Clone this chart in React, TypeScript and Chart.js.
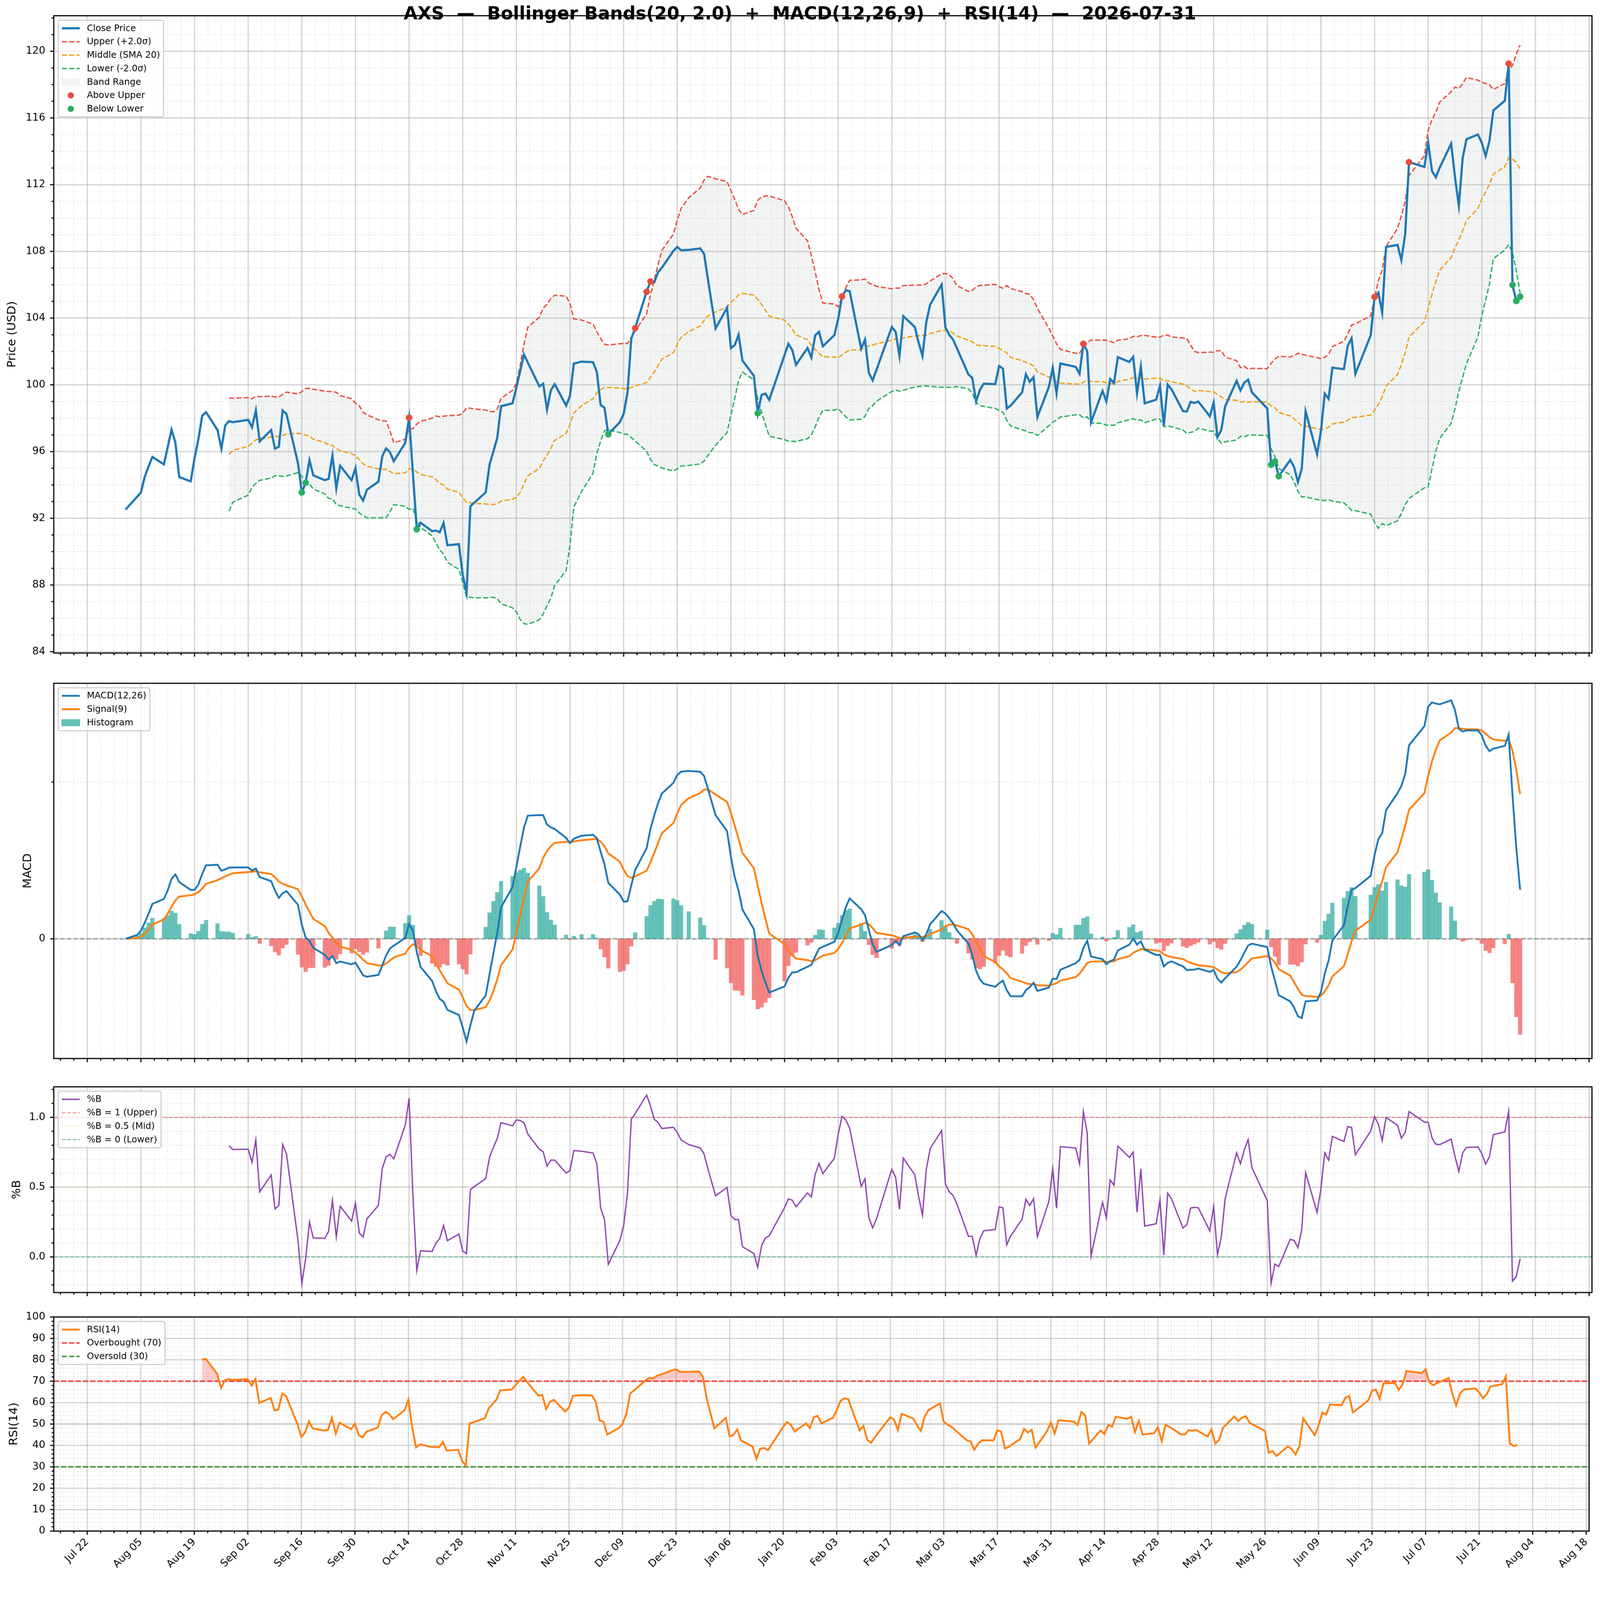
import React, { useEffect, useRef } from 'react';
import { Chart, registerables } from 'chart.js';

Chart.register(...registerables);

const FONT = "'DejaVu Sans', 'Liberation Sans', sans-serif";
Chart.defaults.font.family = FONT;

document.documentElement.style.overflow = 'hidden';
document.body.style.margin = '0';
document.body.style.overflow = 'hidden';

// ---- trading calendar (NYSE days, 1 Aug 2025 .. 31 Jul 2026) ----
const START = '2025-08-01';
const END = '2026-07-31';
const HOLIDAYS = [
  '2025-09-01', '2025-11-27', '2025-12-25', '2026-01-01', '2026-01-19',
  '2026-02-16', '2026-04-03', '2026-05-25', '2026-06-19', '2026-07-03',
];

// ---- close prices (USD), one block per month ----
const closeAug25 = [92.52, 93.29, 93.54, 94.49, 95.1, 95.68, 95.23, 96.27, 97.31, 96.54, 94.47, 94.21, 95.6, 96.74, 98.15, 98.36, 97.29, 96.17, 97.56, 97.83, 97.76];
const closeSep25 = [97.9, 97.45, 98.47, 96.61, 97.29, 96.17, 96.29, 98.47, 98.25, 95.3, 93.55, 94.13, 95.49, 94.57, 94.28, 94.37, 95.77, 93.79, 95.15, 94.28, 95.01];
const closeOct25 = [93.42, 93.06, 93.71, 94.2, 95.72, 96.19, 95.96, 95.42, 96.52, 98.03, 94.7, 91.34, 91.73, 91.23, 91.26, 91.16, 91.72, 90.38, 90.45, 88.6, 87.55, 92.72, 92.93];
const closeNov25 = [93.55, 95.22, 96.0, 96.81, 98.72, 98.89, 99.84, 100.83, 101.82, 101.33, 99.91, 100.07, 98.52, 99.67, 100.04, 98.75, 99.34, 101.27, 101.39];
const closeDec25 = [101.36, 100.77, 98.79, 98.63, 97.04, 97.76, 98.26, 99.51, 102.77, 103.4, 105.58, 106.2, 106.15, 106.76, 107.03, 108.03, 108.27, 108.07, 108.09, 108.18, 107.85, 106.33];
const closeJan26 = [103.38, 104.63, 102.2, 102.38, 103.01, 101.46, 100.54, 98.3, 99.39, 99.48, 99.1, 101.78, 102.46, 102.09, 101.2, 102.21, 101.63, 102.97, 103.18, 102.31];
const closeFeb26 = [102.98, 103.94, 105.3, 105.68, 105.61, 102.16, 102.71, 100.71, 100.27, 100.9, 103.47, 103.18, 101.73, 104.12, 103.47, 102.53, 101.73, 103.76, 104.81];
const closeMar26 = [106.01, 103.43, 103.0, 102.71, 102.19, 100.62, 100.42, 99.0, 99.7, 100.07, 100.04, 101.13, 100.97, 98.58, 98.75, 99.55, 100.64, 100.18, 100.46, 98.07, 99.88, 101.02];
const closeApr26 = [99.48, 101.28, 101.08, 100.66, 102.46, 102.02, 97.75, 99.64, 99.0, 100.35, 100.11, 101.66, 101.37, 101.68, 99.48, 101.09, 98.89, 99.11, 99.96, 97.56, 100.02];
const closeMay26 = [99.73, 98.43, 98.4, 98.98, 98.91, 99.0, 98.11, 98.93, 96.87, 97.29, 98.71, 100.24, 99.66, 100.13, 100.31, 99.55, 98.58, 95.21, 95.4, 94.52];
const closeJun26 = [95.5, 95.07, 94.17, 94.96, 98.42, 95.83, 97.22, 99.47, 99.16, 101.03, 100.94, 102.34, 102.79, 100.66, 102.97, 105.27, 105.52, 104.33, 108.27, 108.39, 107.48];
const closeJul26 = [109.05, 113.35, 113.07, 114.51, 112.81, 112.44, 113.02, 114.46, 112.44, 110.74, 113.6, 114.73, 115.01, 114.51, 113.72, 114.63, 116.45, 117.03, 119.26, 105.99, 105.03, 105.29];

// band breakouts marked on the price panel
const ABOVE_UPPER = ['2025-10-14', '2025-12-12', '2025-12-15', '2025-12-16', '2026-02-04', '2026-04-08', '2026-06-23', '2026-07-02', '2026-07-28'];
const BELOW_LOWER = ['2025-09-16', '2025-09-17', '2025-10-16', '2025-12-05', '2026-01-13', '2026-05-27', '2026-05-28', '2026-05-29', '2026-07-29', '2026-07-30', '2026-07-31'];

// x tick labels (every other Tuesday)
const TICK_DATES = [
  '2025-07-22', '2025-08-05', '2025-08-19', '2025-09-02', '2025-09-16', '2025-09-30', '2025-10-14',
  '2025-10-28', '2025-11-11', '2025-11-25', '2025-12-09', '2025-12-23', '2026-01-06', '2026-01-20',
  '2026-02-03', '2026-02-17', '2026-03-03', '2026-03-17', '2026-03-31', '2026-04-14', '2026-04-28',
  '2026-05-12', '2026-05-26', '2026-06-09', '2026-06-23', '2026-07-07', '2026-07-21', '2026-08-04', '2026-08-18',
];
const MONTHS = ['Jan', 'Feb', 'Mar', 'Apr', 'May', 'Jun', 'Jul', 'Aug', 'Sep', 'Oct', 'Nov', 'Dec'];

const PRICE_TICKS = [84, 88, 92, 96, 100, 104, 108, 112, 116, 120];
const PCTB_TICKS = [0, 0.5, 1.0];
const RSI_TICKS = [0, 10, 20, 30, 40, 50, 60, 70, 80, 90, 100];

const TITLE = 'AXS  \u2014  Bollinger Bands(20, 2.0)  +  MACD(12,26,9)  +  RSI(14)  \u2014  2026-07-31';

// ---- figure geometry (figure pixels) ----
const FIG_W = 4377;
const FIG_H = 4322;
const AX_L = 147;
const AX_R = 4355;
const X_MIN = -18.75;
const X_MAX = 382.75;
const PAD = 30;

// ---- helpers ----
const DAY_MS = 86400000;
const T0 = Date.UTC(2025, 7, 1);
const dayOf = (s: string) => {
  const [y, m, d] = s.split('-').map(Number);
  return Math.round((Date.UTC(y, m - 1, d) - T0) / DAY_MS);
};
const fmtDay = (v: number) => {
  const dt = new Date(T0 + Math.round(v) * DAY_MS);
  return `${MONTHS[dt.getUTCMonth()]} ${String(dt.getUTCDate()).padStart(2, '0')}`;
};

const holidaySet = new Set(HOLIDAYS.map(dayOf));
const DAYS: number[] = [];
for (let d = dayOf(START); d <= dayOf(END); d++) {
  const wd = new Date(T0 + d * DAY_MS).getUTCDay();
  if (wd !== 0 && wd !== 6 && !holidaySet.has(d)) DAYS.push(d);
}

const CLOSE = [
  ...closeAug25, ...closeSep25, ...closeOct25, ...closeNov25, ...closeDec25, ...closeJan26,
  ...closeFeb26, ...closeMar26, ...closeApr26, ...closeMay26, ...closeJun26, ...closeJul26,
];
const N = Math.min(DAYS.length, CLOSE.length);

// Bollinger(20, 2)
const mid: (number | null)[] = [];
const upper: (number | null)[] = [];
const lower: (number | null)[] = [];
for (let i = 0; i < N; i++) {
  if (i < 19) {
    mid.push(null); upper.push(null); lower.push(null);
    continue;
  }
  const w = CLOSE.slice(i - 19, i + 1);
  const m = w.reduce((a, b) => a + b, 0) / 20;
  const sd = Math.sqrt(w.reduce((a, b) => a + (b - m) ** 2, 0) / 19);
  mid.push(m); upper.push(m + 2 * sd); lower.push(m - 2 * sd);
}
const pctB = CLOSE.slice(0, N).map((c, i) =>
  upper[i] == null ? null : (c - (lower[i] as number)) / ((upper[i] as number) - (lower[i] as number)));

// MACD(12,26,9)
const ema = (arr: number[], span: number) => {
  const a = 2 / (span + 1);
  const out: number[] = [];
  arr.forEach((v, i) => out.push(i ? a * v + (1 - a) * out[i - 1] : v));
  return out;
};
const ema12 = ema(CLOSE.slice(0, N), 12);
const ema26 = ema(CLOSE.slice(0, N), 26);
const macd = ema12.map((v, i) => v - ema26[i]);
const signal = ema(macd, 9);
const hist = macd.map((v, i) => v - signal[i]);

// RSI(14), Wilder smoothing
const rsi: (number | null)[] = [null];
let avgGain = 0;
let avgLoss = 0;
for (let i = 1; i < N; i++) {
  const ch = CLOSE[i] - CLOSE[i - 1];
  const g = Math.max(ch, 0);
  const l = Math.max(-ch, 0);
  if (i === 1) { avgGain = g; avgLoss = l; } else {
    avgGain = (avgGain * 13 + g) / 14;
    avgLoss = (avgLoss * 13 + l) / 14;
  }
  rsi.push(i >= 14 ? 100 - 100 / (1 + avgGain / avgLoss) : null);
}

const pts = (arr: (number | null)[]) =>
  arr.map((v, i) => (v == null ? null : { x: DAYS[i], y: v })).filter(Boolean);
const markerPts = (dates: string[]) =>
  dates.map((s) => DAYS.indexOf(dayOf(s))).filter((i) => i >= 0 && i < N).map((i) => ({ x: DAYS[i], y: CLOSE[i] }));

const X_MAJOR = TICK_DATES.map(dayOf);
const X_MINOR: number[] = [];
for (let k = -8; k < 120; k++) {
  const v = X_MAJOR[0] + k * 3.5;
  if (k % 4 !== 0 && v > X_MIN && v < X_MAX) X_MINOR.push(v);
}
const range = (a: number, b: number, step: number) => {
  const out: number[] = [];
  for (let v = a; v <= b + 1e-9; v += step) out.push(Math.round(v * 1000) / 1000);
  return out;
};

// MACD axis range: data extent + 5%
const macdAll = [...macd, ...signal, ...hist, 0];
const macdLo = Math.min(...macdAll);
const macdHi = Math.max(...macdAll);
const MACD_MIN = macdLo - 0.05 * (macdHi - macdLo);
const MACD_MAX = macdHi + 0.05 * (macdHi - macdLo);
const MACD_MINOR = range(-20, 20, 2.5).filter((v) => v !== 0 && v > MACD_MIN && v < MACD_MAX);

// ---- colours ----
const C_CLOSE = '#1f77b4';
const C_UP = '#e74c3c';
const C_MID = '#f39c12';
const C_LOW = '#27ae60';
const C_BAND = 'rgba(149,165,166,0.12)';
const C_TEAL = 'rgba(38,166,154,0.7)';
const C_RED = 'rgba(239,83,80,0.7)';
const C_ORANGE = '#ff7f0e';
const C_PURPLE = '#8e44ad';
const DASH = [14, 6];

type LegendItem = { label: string; kind: 'line' | 'patch' | 'dot'; color: string; width?: number; dash?: number[] };
type HLine = { y: number; color: string; width: number; dash: number[] };
type Decor = {
  yMajor: number[]; yMinor: number[]; ylabel: string; ylabelX: number;
  hlines?: HLine[]; legend: LegendItem[]; title?: string;
};

function drawLegend(ctx: CanvasRenderingContext2D, x0: number, y0: number, items: LegendItem[]) {
  const fs = 24.5;
  const pad = 0.4 * fs;
  const rowH = fs;
  const sp = 0.5 * fs;
  const hl = 2 * fs;
  const htp = 0.8 * fs;
  ctx.font = `${fs}px ${FONT}`;
  const tw = Math.max(...items.map((it) => ctx.measureText(it.label).width));
  const w = pad * 2 + hl + htp + tw;
  const h = pad * 2 + items.length * rowH + (items.length - 1) * sp;
  ctx.save();
  ctx.beginPath();
  ctx.roundRect(x0, y0, w, h, 5);
  ctx.fillStyle = 'rgba(255,255,255,0.8)';
  ctx.fill();
  ctx.lineWidth = 3;
  ctx.strokeStyle = '#cccccc';
  ctx.stroke();
  items.forEach((it, i) => {
    const cy = y0 + pad + rowH / 2 + i * (rowH + sp);
    const hx = x0 + pad;
    if (it.kind === 'line') {
      ctx.beginPath();
      ctx.setLineDash(it.dash || []);
      ctx.lineWidth = it.width || 4;
      ctx.strokeStyle = it.color;
      ctx.moveTo(hx, cy);
      ctx.lineTo(hx + hl, cy);
      ctx.stroke();
      ctx.setLineDash([]);
    } else if (it.kind === 'patch') {
      ctx.fillStyle = it.color;
      ctx.fillRect(hx, cy - 0.35 * fs, hl, 0.7 * fs);
      ctx.lineWidth = 1.5;
      ctx.strokeStyle = it.color;
      ctx.strokeRect(hx, cy - 0.35 * fs, hl, 0.7 * fs);
    } else {
      ctx.beginPath();
      ctx.fillStyle = it.color;
      ctx.arc(hx + hl / 2, cy, 8.5, 0, Math.PI * 2);
      ctx.fill();
    }
    ctx.fillStyle = '#000';
    ctx.textAlign = 'left';
    ctx.textBaseline = 'middle';
    ctx.fillText(it.label, hx + hl + htp, cy + 1);
  });
  ctx.restore();
}

function makeDecor(d: Decor) {
  return {
    id: 'decor',
    beforeDraw(chart: any) {
      const { ctx, chartArea: a, scales } = chart;
      const x = scales.x;
      const y = scales.y;
      ctx.save();
      ctx.beginPath();
      ctx.rect(a.left, a.top, a.right - a.left, a.bottom - a.top);
      ctx.clip();
      const vline = (v: number) => {
        const p = x.getPixelForValue(v);
        ctx.beginPath(); ctx.moveTo(p, a.top); ctx.lineTo(p, a.bottom); ctx.stroke();
      };
      const hline = (v: number) => {
        const p = y.getPixelForValue(v);
        ctx.beginPath(); ctx.moveTo(a.left, p); ctx.lineTo(a.right, p); ctx.stroke();
      };
      ctx.lineWidth = 2;
      ctx.strokeStyle = 'rgba(170,170,170,0.45)';
      ctx.setLineDash([2.5, 5.5]);
      X_MINOR.forEach(vline);
      d.yMinor.forEach(hline);
      ctx.setLineDash([]);
      ctx.lineWidth = 3;
      ctx.strokeStyle = 'rgba(160,160,160,0.5)';
      X_MAJOR.forEach(vline);
      d.yMajor.forEach(hline);
      ctx.restore();
    },
    beforeDatasetsDraw(chart: any) {
      const { ctx, chartArea: a, scales } = chart;
      ctx.save();
      ctx.beginPath();
      ctx.rect(a.left, a.top, a.right - a.left, a.bottom - a.top);
      ctx.clip();
      (d.hlines || []).forEach((h) => {
        const p = scales.y.getPixelForValue(h.y);
        ctx.beginPath();
        ctx.setLineDash(h.dash);
        ctx.lineWidth = h.width;
        ctx.strokeStyle = h.color;
        ctx.moveTo(a.left, p);
        ctx.lineTo(a.right, p);
        ctx.stroke();
      });
      ctx.restore();
    },
    afterDatasetsDraw(chart: any) {
      const { ctx, chartArea: a, scales } = chart;
      const x = scales.x;
      const y = scales.y;
      ctx.save();
      ctx.strokeStyle = '#000';
      ctx.lineWidth = 3;
      const tick = (x1: number, y1: number, x2: number, y2: number) => {
        ctx.beginPath(); ctx.moveTo(x1, y1); ctx.lineTo(x2, y2); ctx.stroke();
      };
      X_MAJOR.forEach((v) => { if (v >= X_MIN && v <= X_MAX) { const p = x.getPixelForValue(v); tick(p, a.bottom, p, a.bottom + 10); } });
      X_MINOR.forEach((v) => { const p = x.getPixelForValue(v); tick(p, a.bottom, p, a.bottom + 6); });
      d.yMajor.forEach((v) => { const p = y.getPixelForValue(v); tick(a.left, p, a.left - 10, p); });
      d.yMinor.forEach((v) => { const p = y.getPixelForValue(v); tick(a.left, p, a.left - 6, p); });
      ctx.lineWidth = 3.2;
      ctx.strokeRect(a.left, a.top, a.right - a.left, a.bottom - a.top);

      drawLegend(ctx, a.left + 12.25, a.top + 12.25, d.legend);

      ctx.save();
      ctx.translate(d.ylabelX, (a.top + a.bottom) / 2);
      ctx.rotate(-Math.PI / 2);
      ctx.font = `32px ${FONT}`;
      ctx.fillStyle = '#000';
      ctx.textAlign = 'center';
      ctx.textBaseline = 'middle';
      ctx.fillText(d.ylabel, 0, 0);
      ctx.restore();

      if (d.title) {
        ctx.font = `bold 49px ${FONT}`;
        ctx.fillStyle = '#000';
        ctx.textAlign = 'center';
        ctx.textBaseline = 'middle';
        ctx.fillText(d.title, FIG_W / 2, 40);
      }
      ctx.restore();
    },
  };
}

function xScale(showLabels: boolean, axisH: number) {
  return {
    type: 'linear',
    min: X_MIN,
    max: X_MAX,
    offset: false,
    grid: { display: false, drawTicks: false },
    border: { display: false },
    afterBuildTicks: (s: any) => { s.ticks = X_MAJOR.map((v) => ({ value: v })); },
    afterFit: (s: any) => { s.height = axisH; },
    ticks: {
      display: showLabels,
      autoSkip: false,
      minRotation: 45,
      maxRotation: 45,
      padding: 14,
      color: '#000',
      font: { family: FONT, size: 28 },
      callback: (v: number) => fmtDay(v),
    },
  };
}

function yScale(min: number, max: number, ticks: number[], fmt: (v: number) => string) {
  return {
    type: 'linear',
    min,
    max,
    grid: { display: false, drawTicks: false },
    border: { display: false },
    afterBuildTicks: (s: any) => { s.ticks = ticks.map((v) => ({ value: v })); },
    afterFit: (s: any) => { s.width = AX_L; },
    ticks: { padding: 23, color: '#000', font: { family: FONT, size: 28 }, callback: (v: number) => fmt(v) },
  };
}

function baseOptions(padTop: number, padBottom: number, xShow: boolean, xH: number, y: any, filler?: any) {
  return {
    responsive: false,
    animation: false,
    devicePixelRatio: 1,
    events: [],
    layout: { padding: { left: 0, right: FIG_W - AX_R, top: padTop, bottom: padBottom } },
    plugins: { legend: { display: false }, tooltip: { enabled: false }, ...(filler ? { filler } : {}) },
    elements: { point: { radius: 0 }, line: { tension: 0 } },
    scales: { x: xScale(xShow, xH), y },
  };
}

const line = (data: any[], color: string, width: number, order: number, extra: any = {}) => ({
  type: 'line', data, borderColor: color, borderWidth: width, pointRadius: 0, fill: false, order, spanGaps: false, ...extra,
});

function priceConfig() {
  return {
    type: 'line',
    data: {
      datasets: [
        line(markerPts(ABOVE_UPPER), C_UP, 0, 1, { showLine: false, pointRadius: 9, pointBackgroundColor: C_UP, pointBorderWidth: 0 }),
        line(markerPts(BELOW_LOWER), C_LOW, 0, 1, { showLine: false, pointRadius: 9, pointBackgroundColor: C_LOW, pointBorderWidth: 0 }),
        line(pts(CLOSE.slice(0, N)), C_CLOSE, 6, 2),
        line(pts(upper), C_UP, 3.6, 3, { borderDash: DASH, fill: { target: 5 }, backgroundColor: C_BAND }),
        line(pts(mid), C_MID, 3.6, 3, { borderDash: DASH }),
        line(pts(lower), C_LOW, 3.6, 3, { borderDash: DASH }),
      ],
    },
    options: baseOptions(43, PAD, false, 0, yScale(83.92, 122.13, PRICE_TICKS, (v) => String(v)), { drawTime: 'beforeDatasetsDraw' }),
    plugins: [makeDecor({
      yMajor: PRICE_TICKS,
      yMinor: range(84, 122, 1).filter((v) => v % 4 !== 0),
      ylabel: 'Price (USD)',
      ylabelX: 34,
      title: TITLE,
      legend: [
        { label: 'Close Price', kind: 'line', color: C_CLOSE, width: 6 },
        { label: 'Upper (+2.0\u03c3)', kind: 'line', color: C_UP, width: 3.6, dash: DASH },
        { label: 'Middle (SMA 20)', kind: 'line', color: C_MID, width: 3.6, dash: DASH },
        { label: 'Lower (-2.0\u03c3)', kind: 'line', color: C_LOW, width: 3.6, dash: DASH },
        { label: 'Band Range', kind: 'patch', color: C_BAND },
        { label: 'Above Upper', kind: 'dot', color: C_UP },
        { label: 'Below Lower', kind: 'dot', color: C_LOW },
      ],
    })],
  };
}

function macdConfig() {
  return {
    type: 'line',
    data: {
      datasets: [
        line(pts(macd), C_CLOSE, 5, 1),
        line(pts(signal), C_ORANGE, 5, 2),
        {
          type: 'bar',
          data: pts(hist),
          backgroundColor: hist.map((v) => (v >= 0 ? C_TEAL : C_RED)),
          borderWidth: 0,
          barThickness: 10.5,
          order: 3,
        },
      ],
    },
    options: baseOptions(PAD, PAD, false, 0, yScale(MACD_MIN, MACD_MAX, [0], (v) => String(v))),
    plugins: [makeDecor({
      yMajor: [0],
      yMinor: MACD_MINOR,
      ylabel: 'MACD',
      ylabelX: 77,
      hlines: [{ y: 0, color: 'rgba(128,128,128,0.9)', width: 3, dash: [12, 6] }],
      legend: [
        { label: 'MACD(12,26)', kind: 'line', color: C_CLOSE, width: 5 },
        { label: 'Signal(9)', kind: 'line', color: C_ORANGE, width: 5 },
        { label: 'Histogram', kind: 'patch', color: C_TEAL },
      ],
    })],
  };
}

function pctbConfig() {
  const h1 = 'rgba(231,76,60,0.6)';
  const h5 = 'rgba(243,156,18,0.45)';
  const h0 = 'rgba(39,174,96,0.65)';
  return {
    type: 'line',
    data: { datasets: [line(pts(pctB), C_PURPLE, 3.6, 1)] },
    options: baseOptions(PAD, PAD, false, 0, yScale(-0.255, 1.219, PCTB_TICKS, (v) => v.toFixed(1))),
    plugins: [makeDecor({
      yMajor: PCTB_TICKS,
      yMinor: range(-0.2, 1.2, 0.1).filter((v) => Math.abs((v * 10) % 5) > 1e-6),
      ylabel: '%B',
      ylabelX: 47,
      hlines: [
        { y: 1, color: h1, width: 2.6, dash: [10, 5] },
        { y: 0.5, color: h5, width: 2.4, dash: [2.5, 5] },
        { y: 0, color: h0, width: 2.6, dash: [10, 5] },
      ],
      legend: [
        { label: '%B', kind: 'line', color: C_PURPLE, width: 3.6 },
        { label: '%B = 1 (Upper)', kind: 'line', color: h1, width: 2.6, dash: [10, 5] },
        { label: '%B = 0.5 (Mid)', kind: 'line', color: h5, width: 2.4, dash: [2.5, 5] },
        { label: '%B = 0 (Lower)', kind: 'line', color: h0, width: 2.6, dash: [10, 5] },
      ],
    })],
  };
}

function rsiConfig() {
  const ob = 'rgba(255,0,0,0.75)';
  const os = 'rgba(0,128,0,0.8)';
  const rsiPts = pts(rsi);
  return {
    type: 'line',
    data: {
      datasets: [
        line(rsiPts, C_ORANGE, 5, 1, {
          fill: { target: { value: 70 }, above: 'rgba(255,0,0,0.2)', below: 'rgba(0,0,0,0)' },
        }),
        line(rsiPts, 'rgba(0,0,0,0)', 0, 2, {
          fill: { target: { value: 30 }, above: 'rgba(0,0,0,0)', below: 'rgba(0,128,0,0.2)' },
        }),
      ],
    },
    options: baseOptions(PAD + 10, 0, true, FIG_H - 4188, yScale(0, 100, RSI_TICKS, (v) => String(v))),
    plugins: [makeDecor({
      yMajor: RSI_TICKS,
      yMinor: range(0, 100, 2).filter((v) => v % 10 !== 0),
      ylabel: 'RSI(14)',
      ylabelX: 39,
      hlines: [
        { y: 70, color: ob, width: 4, dash: DASH },
        { y: 30, color: os, width: 4, dash: DASH },
        { y: 50, color: 'rgba(128,128,128,0.6)', width: 2.5, dash: [3, 4] },
      ],
      legend: [
        { label: 'RSI(14)', kind: 'line', color: C_ORANGE, width: 5 },
        { label: 'Overbought (70)', kind: 'line', color: ob, width: 4, dash: DASH },
        { label: 'Oversold (30)', kind: 'line', color: os, width: 4, dash: DASH },
      ],
    })],
  };
}

function Panel({ top, height, make, s }: { top: number; height: number; make: () => any; s: number }) {
  const ref = useRef<HTMLCanvasElement>(null);
  useEffect(() => {
    if (!ref.current) return;
    const chart = new Chart(ref.current, make());
    return () => chart.destroy();
  }, []);
  return (
    <canvas
      ref={ref}
      width={FIG_W}
      height={height}
      style={{ position: 'absolute', left: 0, top: top * s, width: FIG_W * s, height: height * s }}
    />
  );
}

export default function App() {
  // fit the figure to the real viewport width (CSS pixels), one scale for both axes
  const sx = (window.innerWidth || FIG_W) / FIG_W;
  const sy = (window.innerHeight || FIG_H) / FIG_H;
  const s = Math.min(sx, sy);
  return (
    <div style={{ position: 'absolute', left: 0, top: 0, width: FIG_W * s, height: FIG_H * s, background: '#fff', overflow: 'hidden' }}>
      <Panel s={s} top={0} height={1796 + PAD} make={priceConfig} />
      <Panel s={s} top={1859 - PAD} height={2905 - 1859 + 2 * PAD} make={macdConfig} />
      <Panel s={s} top={2963 - PAD} height={3546 - 2963 + 2 * PAD} make={pctbConfig} />
      <Panel s={s} top={3603 - PAD - 10} height={FIG_H - 3603 + PAD + 10} make={rsiConfig} />
    </div>
  );
}
